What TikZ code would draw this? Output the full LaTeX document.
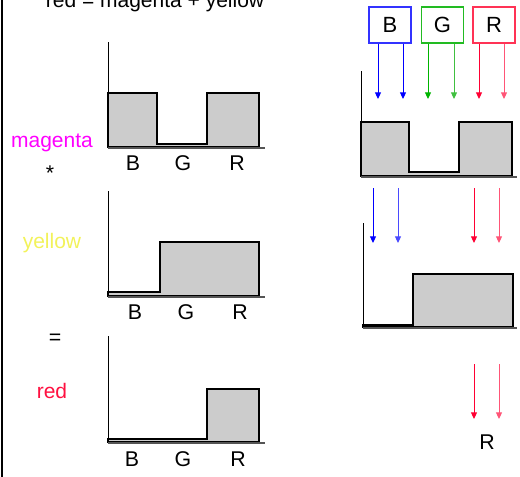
\documentclass[tikz,border=0pt]{standalone}
\usepackage{fontspec}
\setmainfont{Liberation Sans}
\usetikzlibrary{arrows.meta}
\definecolor{barfill}{HTML}{CCCCCC}
\definecolor{basegray}{HTML}{555555}
\definecolor{blueA}{HTML}{0000FF}
\definecolor{blueB}{HTML}{4A4AFF}
\definecolor{greenA}{HTML}{00B400}
\definecolor{greenB}{HTML}{40C040}
\definecolor{redA}{HTML}{FF0033}
\definecolor{redB}{HTML}{FF5577}
\definecolor{edgeB}{HTML}{3333FF}
\definecolor{edgeG}{HTML}{22BB22}
\definecolor{edgeR}{HTML}{FF3355}
\definecolor{magtext}{HTML}{FF00FF}
\definecolor{yeltext}{HTML}{F2F25A}
\definecolor{redtext}{HTML}{FF1040}
\tikzset{
  axisline/.style={draw=black, line width=0.75pt},
  baseline/.style={draw=basegray, line width=1.5pt},
  bar/.style={fill=barfill, draw=black, line width=0.9pt},
  chlabel/.style={font=\fontsize{16}{18}\selectfont, inner sep=0pt},
  sidelabel/.style={font=\fontsize{15.75}{18}\selectfont, inner sep=0pt},
  colbox/.style={line width=0.9pt, minimum width=31.5pt, minimum height=27pt, inner sep=0pt, text=black, font=\fontsize{16.5}{18}\selectfont},
  ray/.style={line width=0.75pt, -{Triangle[width=4.5pt,length=5pt]}},
}
\begin{document}
\begin{tikzpicture}[x=0.75pt,y=-0.75pt]
\useasboundingbox (0,0) rectangle (520,476);
\begin{scope}
\clip (0,0) rectangle (520,476);
% left border
\draw[line width=2.2pt] (2,-5) -- (2,481);
% title (clipped at top, as in the reference)
\node[sidelabel, anchor=base] (title) at (155,7) {red = magenta + yellow};
\end{scope}

% ---------- left chart 1 : magenta ----------
\draw[bar] (108,147) -- (108,93) -- (157,93) -- (157,144) -- (207,144) -- (207,93) -- (259,93) -- (259,147) -- cycle;
\draw[axisline] (108,42) -- (108,147);
\draw[baseline] (108,148) -- (265,148);
\node[chlabel] (l1B) at (133,163) {B};
\node[chlabel] (l1G) at (183,163) {G};
\node[chlabel] (l1R) at (237,163) {R};
\node[sidelabel, text=magtext] (magenta) at (52,143) {magenta};
\node[chlabel] (star) at (50,173) {*};

% ---------- left chart 2 : yellow ----------
\draw[bar] (108,296) -- (108,292) -- (160,292) -- (160,242) -- (259,242) -- (259,296) -- cycle;
\draw[axisline] (108,191) -- (108,296);
\draw[baseline] (108,296.5) -- (265,296.5);
\node[chlabel] (l2B) at (135,312) {B};
\node[chlabel] (l2G) at (186,312) {G};
\node[chlabel] (l2R) at (240,312) {R};
\node[sidelabel, text=yeltext] (yellow) at (52,243) {yellow};
\node[chlabel] (equals) at (55,339) {=};

% ---------- left chart 3 : red ----------
\draw[bar] (108,442) -- (108,439) -- (207,439) -- (207,389) -- (259,389) -- (259,442) -- cycle;
\draw[axisline] (108,336) -- (108,442);
\draw[baseline] (108,442.5) -- (265,442.5);
\node[chlabel] (l3B) at (132,459) {B};
\node[chlabel] (l3G) at (183,459) {G};
\node[chlabel] (l3R) at (238,459) {R};
\node[sidelabel, text=redtext] (red) at (52,391) {red};

% ---------- right: light boxes ----------
\node[colbox, draw=edgeB] (boxB) at (390,25) {B};
\node[colbox, draw=edgeG] (boxG) at (442.5,25) {G};
\node[colbox, draw=edgeR] (boxR) at (494,25) {R};

\coordinate (b1e) at (378,99);
\coordinate (b2e) at (403,99);
\coordinate (g1e) at (428,99);
\coordinate (g2e) at (454,99);
\coordinate (r1e) at (479,99);
\coordinate (r2e) at (504,99);
\draw[ray, blueA] (boxB.south -| b1e) -- (b1e);
\draw[ray, blueA] (boxB.south -| b2e) -- (b2e);
\draw[ray, greenA] (boxG.south -| g1e) -- (g1e);
\draw[ray, greenB] (boxG.south -| g2e) -- (g2e);
\draw[ray, redA] (boxR.south -| r1e) -- (r1e);
\draw[ray, redB] (boxR.south -| r2e) -- (r2e);

% right chart 1 (magenta filter)
\draw[bar] (361,176) -- (361,122) -- (409,122) -- (409,172) -- (459,172) -- (459,122) -- (512,122) -- (512,176) -- cycle;
\draw[axisline] (361,71) -- (361,176);
\draw[baseline] (361,176.5) -- (517,176.5);

% second rays
\coordinate (b3s) at (373,188);
\coordinate (b3e) at (373,243);
\coordinate (b4s) at (398,188);
\coordinate (b4e) at (398,243);
\coordinate (r3s) at (474,188);
\coordinate (r3e) at (474,243);
\coordinate (r4s) at (499,188);
\coordinate (r4e) at (499,243);
\draw[ray, blueA] (b3s) -- (b3e);
\draw[ray, blueB] (b4s) -- (b4e);
\draw[ray, redA] (r3s) -- (r3e);
\draw[ray, redB] (r4s) -- (r4e);

% right chart 2 (yellow filter)
\draw[bar] (363,327) -- (363,325) -- (413,325) -- (413,274) -- (513,274) -- (513,327) -- cycle;
\draw[axisline] (363,223) -- (363,327);
\draw[baseline] (363,327.5) -- (517,327.5);

% third rays
\coordinate (r5s) at (474,364);
\coordinate (r5e) at (474,419);
\coordinate (r6s) at (499,364);
\coordinate (r6e) at (499,419);
\draw[ray, redA] (r5s) -- (r5e);
\draw[ray, redB] (r6s) -- (r6e);
\node[chlabel] (outR) at (487,442) {R};
\end{tikzpicture}
\end{document}
